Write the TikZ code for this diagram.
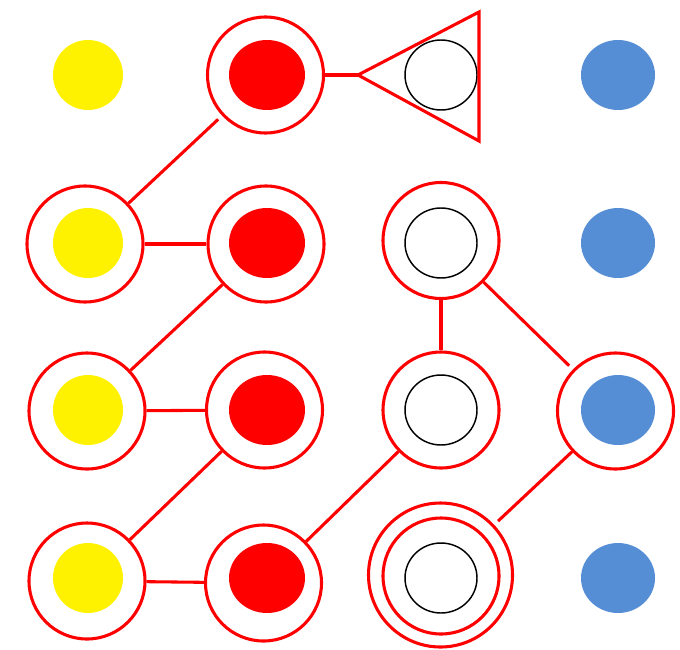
\documentclass[tikz,border=0pt]{standalone}
\usetikzlibrary{shapes.geometric}
\definecolor{dotblue}{HTML}{558ED5}

\begin{document}
\begin{tikzpicture}
[
	x=0.75pt,y=-0.75pt,
	ring/.style={circle,draw=red,line width=2.3pt,minimum size=87pt,inner sep=0pt},
	spot/.style={ellipse,inner sep=0pt,minimum width=#1,minimum height=52.5pt},
	link/.style={draw=red,line width=2.3pt}
]
	\useasboundingbox (0,0) rectangle (680,649);

	% inner dots, one row at a time
	\foreach \y [count=\i] in {75,243,410,578} {
		\node[spot=52.5pt,fill=yellow] (y\i) at (88,\y) {};
		\node[spot=57pt,fill=red] (d\i) at (267,\y) {};
		\node[spot=54pt,draw=black,line width=1.1pt] (w\i) at (441,\y) {};
		\node[spot=55.5pt,fill=dotblue] (b\i) at (618,\y) {};
	}

	% rings
	\node[ring] (r12) at (265.5,75) {};
	\node[ring] (r21) at (85,244) {};
	\node[ring] (r22) at (266,244) {};
	\node[ring] (r23) at (441,240.5) {};
	\node[ring] (r31) at (87,411) {};
	\node[ring] (r32) at (264.5,410) {};
	\node[ring] (r33) at (441,410) {};
	\node[ring] (r34) at (615.5,411) {};
	\node[ring] (r41) at (87,581) {};
	\node[ring] (r42) at (263.5,583) {};
	\node[ring] (r43) at (441,576) {};
	\node[ring,minimum size=108pt] (r43o) at (440.5,575) {};

	% triangle
	\coordinate (tip) at (358,75);
	\draw[red,line width=2.3pt,line join=miter] (tip) -- (479,12) -- (479,141) -- cycle;

	% connectors
	\draw[link] (r12) -- (tip);
	\draw[link,shorten <=4pt] (r12) -- (r21);
	\draw[link] (r21) -- (r22);
	\draw[link] (r22) -- (r31);
	\draw[link] (r31) -- (r32);
	\draw[link] (r32) -- (r41);
	\draw[link] (r41) -- (r42);
	\draw[link] (r42) -- (r33);
	\draw[link,line width=3.2pt] (r23) -- (r33);
	\draw[link,shorten >=4pt] (r23) -- (r34);
	\draw[link,shorten >=4pt] (r34) -- (r43o);

\end{tikzpicture}
\end{document}
